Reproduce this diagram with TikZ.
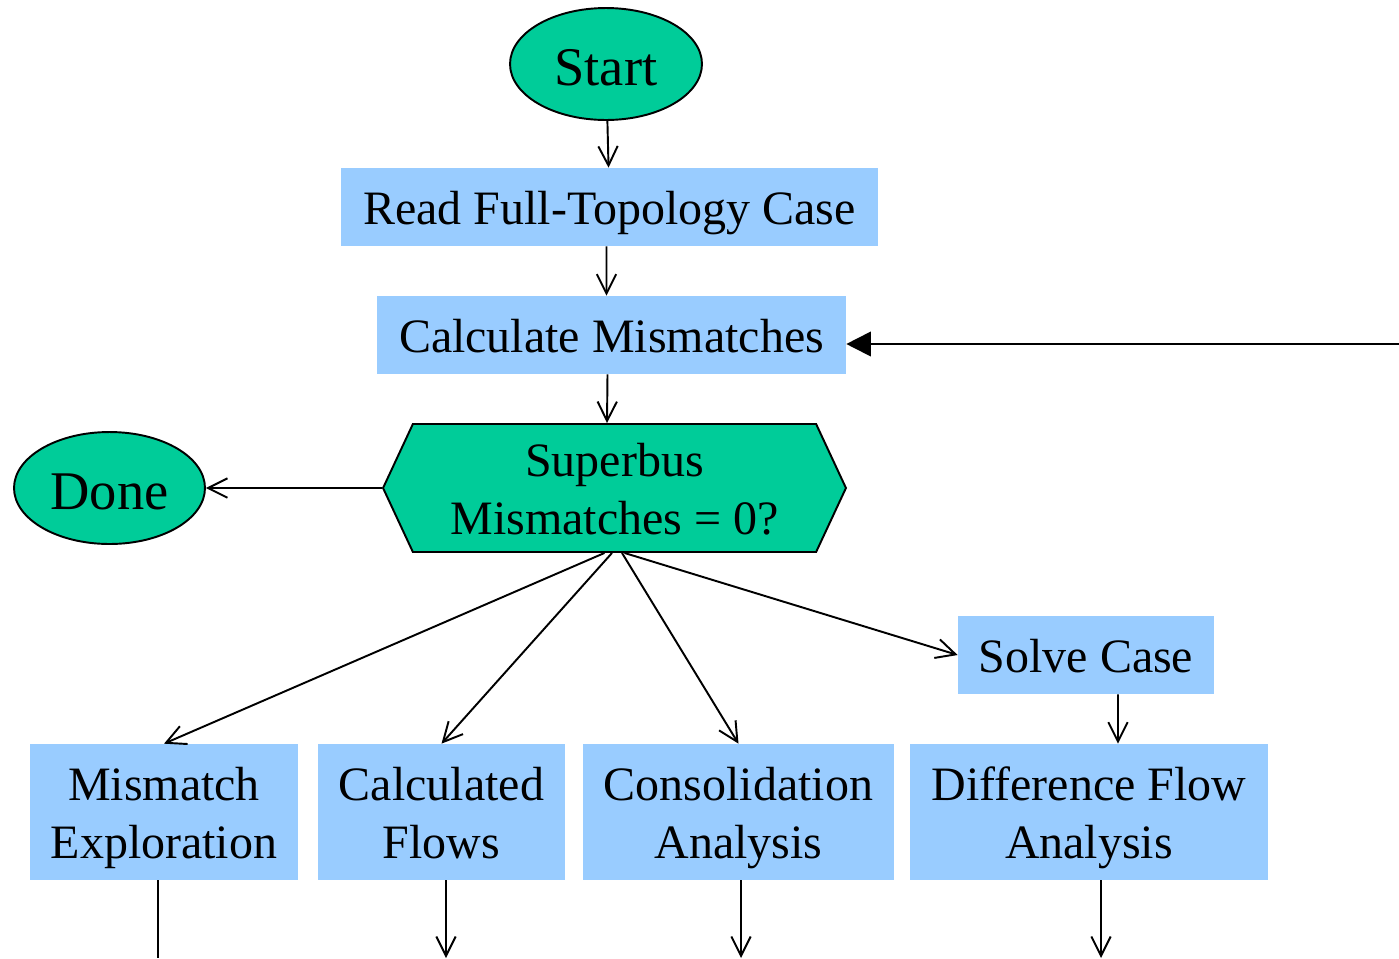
\documentclass[tikz,border=0pt]{standalone}
\usepackage{fontspec}
\setmainfont{Liberation Serif}
\usetikzlibrary{shapes.geometric,shapes.symbols,arrows.meta}
\definecolor{termgreen}{HTML}{00CC99}
\definecolor{stepblue}{HTML}{99CCFF}
\newcommand{\lnstrut}{\rule[-6.5pt]{0pt}{33pt}}
\tikzset{term/.style = {shape = ellipse,
                        fill = termgreen,
                        draw = black,
                        line width = 1.1pt,
                        inner sep = 0pt,
                        minimum width = 3.84cm,
                        minimum height = 2.24cm,
                        text height = 25pt,
                        text depth = 0pt,
                        font = \fontsize{31}{37}\selectfont},
         stepbox/.style = {shape = rectangle,
                           fill = stepblue,
                           inner sep = 0pt,
                           align = center,
                           font = \fontsize{27.3}{33}\selectfont},
         decide/.style = {shape = signal,
                          signal to = west and east,
                          signal pointer angle = 130,
                          fill = termgreen,
                          draw = black,
                          line width = 1.1pt,
                          inner sep = 0pt,
                          align = center,
                          minimum width = 9.26cm,
                          minimum height = 2.56cm,
                          font = \fontsize{27.3}{33}\selectfont},
         arr/.style = {line width = 1.1pt,
                       -{Straight Barb[length=11pt,width=11pt]}},
         back/.style = {line width = 1.1pt,
                        -{Triangle[length=14pt,width=14pt]}},
         plain/.style = {line width = 1.1pt}}

\begin{document}
\begin{tikzpicture}[x=0.02cm,y=-0.02cm]
		\useasboundingbox (0,0) rectangle (1399,958);
		\node[term] (start) at (606,64) {Start};
		\node[stepbox, minimum width=10.74cm, minimum height=1.56cm] (read) at (609.5,207) {\lnstrut Read Full-Topology Case};
		\node[stepbox, minimum width=9.38cm, minimum height=1.56cm] (calc) at (611.5,335) {\lnstrut Calculate Mismatches};
		\node[decide] (test) at (614.5,488) {\lnstrut Superbus\\\lnstrut Mismatches = 0?};
		\node[term, minimum width=3.82cm] (done) at (109.5,488) {Done};
		\node[stepbox, minimum width=5.12cm, minimum height=1.56cm] (solve) at (1086,655) {\lnstrut Solve Case};
		\node[stepbox, minimum width=5.36cm, minimum height=2.72cm] (explore) at (164,812) {\lnstrut Mismatch\\\lnstrut Exploration};
		\node[stepbox, minimum width=4.94cm, minimum height=2.72cm] (flows) at (441.5,812) {\lnstrut Calculated\\\lnstrut Flows};
		\node[stepbox, minimum width=6.22cm, minimum height=2.72cm] (consol) at (738.5,812) {\lnstrut Consolidation\\\lnstrut Analysis};
		\node[stepbox, minimum width=7.16cm, minimum height=2.72cm] (diff) at (1089,812) {\lnstrut Difference Flow\\\lnstrut Analysis};
		\coordinate (loop) at (1399,344);
		\coordinate (out1) at (158,958);
		\coordinate (out2) at (446,958);
		\coordinate (out3) at (741,958);
		\coordinate (out4) at (1101,958);
		\path (start) edge[arr] (read);
		\path ([xshift=-0.06cm]read.south) edge[arr] ([xshift=-0.1cm]calc.north);
		\path ([xshift=-0.08cm]calc.south) edge[arr] ([xshift=-0.15cm]test.north);
		\path (loop) edge[back] (loop -| calc.east);
		\path (test.west) edge[arr] (done.east);
		\path ([xshift=-0.2cm]test.south) edge[arr] (explore.north);
		\path ([xshift=-0.05cm]test.south) edge[arr] (flows.north);
		\path ([xshift=0.15cm]test.south) edge[arr] (consol.north);
		\path ([xshift=0.2cm]test.south) edge[arr] (solve.west);
		\path ([xshift=0.64cm]solve.south) edge[arr] ([xshift=0.58cm]diff.north);
		\path (explore.south -| out1) edge[plain] (out1);
		\path (flows.south -| out2) edge[arr] (out2);
		\path (consol.south -| out3) edge[arr] (out3);
		\path (diff.south -| out4) edge[arr] (out4);
	\end{tikzpicture}
\end{document}
